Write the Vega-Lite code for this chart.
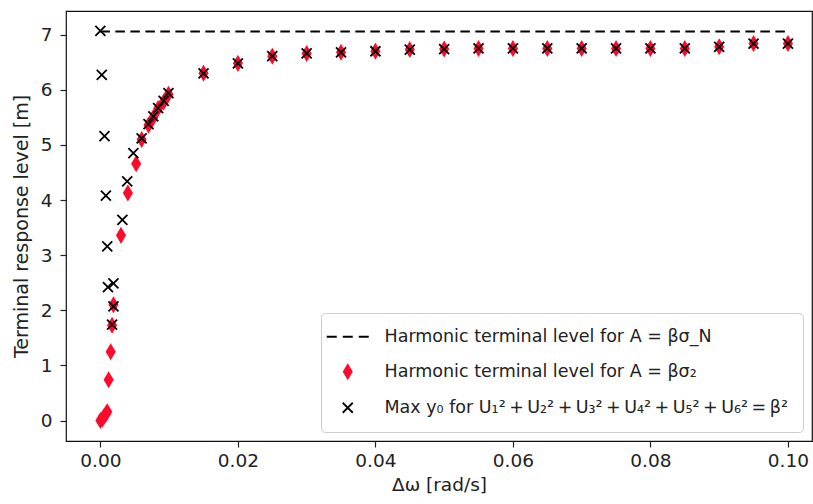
{
  "$schema": "https://vega.github.io/schema/vega-lite/v6.json",
  "width": 746,
  "height": 430,
  "autosize": {"type": "none"},
  "padding": {"left": 66, "top": 11, "right": 1, "bottom": 63},
  "background": "white",
  "config": {
    "font": "DejaVu Sans",
    "view": {"stroke": "#111", "strokeWidth": 1.2},
    "axis": {
      "grid": false,
      "domain": false,
      "tickColor": "#222",
      "tickSize": 6,
      "tickWidth": 1.2,
      "labelFont": "DejaVu Sans",
      "labelFontSize": 18.5,
      "labelColor": "#222",
      "titleFont": "DejaVu Sans",
      "titleFontSize": 18.5,
      "titleFontWeight": "normal",
      "titleColor": "#222"
    },
    "legend": {
      "orient": "bottom-right",
      "offset": 9,
      "padding": 15,
      "rowPadding": 15,
      "fillColor": "rgba(255,255,255,0.85)",
      "strokeColor": "#cccccc",
      "cornerRadius": 4,
      "labelFont": "DejaVu Sans",
      "labelFontSize": 17.5,
      "labelColor": "#222",
      "labelLimit": 600,
      "symbolSize": 100,
      "symbolStrokeWidth": 1.8,
      "symbolOpacity": 1,
      "symbolOffset": 3,
      "labelOffset": 28
    }
  },
  "data": {
    "values": [
      {"series": "N", "x": 0, "y": 7.06},
      {"series": "N", "x": 0.1, "y": 7.06},
      {"series": "S2", "x": 0, "y": 0.0},
      {"series": "S2", "x": 0.0003, "y": 0.03},
      {"series": "S2", "x": 0.0005, "y": 0.07},
      {"series": "S2", "x": 0.0008, "y": 0.12},
      {"series": "S2", "x": 0.001, "y": 0.16},
      {"series": "S2", "x": 0.0012, "y": 0.74},
      {"series": "S2", "x": 0.0015, "y": 1.25},
      {"series": "S2", "x": 0.0017, "y": 1.73},
      {"series": "S2", "x": 0.0019, "y": 2.1},
      {"series": "S2", "x": 0.003, "y": 3.36},
      {"series": "S2", "x": 0.004, "y": 4.13},
      {"series": "S2", "x": 0.0052, "y": 4.66},
      {"series": "S2", "x": 0.006, "y": 5.1},
      {"series": "S2", "x": 0.007, "y": 5.36},
      {"series": "S2", "x": 0.0077, "y": 5.5},
      {"series": "S2", "x": 0.0084, "y": 5.66},
      {"series": "S2", "x": 0.0092, "y": 5.78},
      {"series": "S2", "x": 0.0099, "y": 5.92},
      {"series": "S2", "x": 0.015, "y": 6.3},
      {"series": "S2", "x": 0.02, "y": 6.48},
      {"series": "S2", "x": 0.025, "y": 6.61},
      {"series": "S2", "x": 0.03, "y": 6.66},
      {"series": "S2", "x": 0.035, "y": 6.68},
      {"series": "S2", "x": 0.04, "y": 6.7},
      {"series": "S2", "x": 0.045, "y": 6.73},
      {"series": "S2", "x": 0.05, "y": 6.74},
      {"series": "S2", "x": 0.055, "y": 6.75},
      {"series": "S2", "x": 0.06, "y": 6.75},
      {"series": "S2", "x": 0.065, "y": 6.75},
      {"series": "S2", "x": 0.07, "y": 6.75},
      {"series": "S2", "x": 0.075, "y": 6.75},
      {"series": "S2", "x": 0.08, "y": 6.75},
      {"series": "S2", "x": 0.085, "y": 6.75},
      {"series": "S2", "x": 0.09, "y": 6.78},
      {"series": "S2", "x": 0.095, "y": 6.84},
      {"series": "S2", "x": 0.1, "y": 6.84},
      {"series": "U", "x": 0, "y": 7.07},
      {"series": "U", "x": 0.0002, "y": 6.27},
      {"series": "U", "x": 0.0006, "y": 5.16},
      {"series": "U", "x": 0.0008, "y": 4.08},
      {"series": "U", "x": 0.001, "y": 3.16},
      {"series": "U", "x": 0.0011, "y": 2.42},
      {"series": "U", "x": 0.0017, "y": 1.74},
      {"series": "U", "x": 0.0019, "y": 2.07},
      {"series": "U", "x": 0.0019, "y": 2.49},
      {"series": "U", "x": 0.0032, "y": 3.64},
      {"series": "U", "x": 0.0039, "y": 4.34},
      {"series": "U", "x": 0.0048, "y": 4.85},
      {"series": "U", "x": 0.006, "y": 5.12},
      {"series": "U", "x": 0.007, "y": 5.38},
      {"series": "U", "x": 0.0077, "y": 5.52},
      {"series": "U", "x": 0.0084, "y": 5.67},
      {"series": "U", "x": 0.0092, "y": 5.8},
      {"series": "U", "x": 0.0099, "y": 5.94},
      {"series": "U", "x": 0.015, "y": 6.3},
      {"series": "U", "x": 0.02, "y": 6.48},
      {"series": "U", "x": 0.025, "y": 6.61},
      {"series": "U", "x": 0.03, "y": 6.66},
      {"series": "U", "x": 0.035, "y": 6.68},
      {"series": "U", "x": 0.04, "y": 6.7},
      {"series": "U", "x": 0.045, "y": 6.73},
      {"series": "U", "x": 0.05, "y": 6.74},
      {"series": "U", "x": 0.055, "y": 6.75},
      {"series": "U", "x": 0.06, "y": 6.75},
      {"series": "U", "x": 0.065, "y": 6.75},
      {"series": "U", "x": 0.07, "y": 6.75},
      {"series": "U", "x": 0.075, "y": 6.75},
      {"series": "U", "x": 0.08, "y": 6.75},
      {"series": "U", "x": 0.085, "y": 6.75},
      {"series": "U", "x": 0.09, "y": 6.78},
      {"series": "U", "x": 0.095, "y": 6.84},
      {"series": "U", "x": 0.1, "y": 6.84}
    ]
  },
  "encoding": {
    "x": {
      "field": "x",
      "type": "quantitative",
      "scale": {"domain": [-0.005, 0.1035], "nice": false, "zero": false},
      "axis": {
        "values": [0, 0.02, 0.04, 0.06, 0.08, 0.1],
        "format": ".2f",
        "title": "Δω [rad/s]",
        "labelPadding": 4,
        "titlePadding": 6
      }
    },
    "y": {
      "field": "y",
      "type": "quantitative",
      "scale": {"domain": [-0.37, 7.43], "nice": false, "zero": false},
      "axis": {
        "values": [0, 1, 2, 3, 4, 5, 6, 7],
        "format": "d",
        "title": "Terminal response level [m]",
        "titleFontSize": 19,
        "labelPadding": 8,
        "titlePadding": 9
      }
    }
  },
  "layer": [
    {
      "transform": [{"filter": "datum.series === 'N'"}],
      "mark": {"type": "line", "stroke": "black", "strokeWidth": 2, "strokeDash": [9.5, 5.5]},
      "encoding": {}
    },
    {
      "transform": [{"filter": "datum.series !== 'N'"}],
      "mark": {"type": "point", "filled": true, "opacity": 1, "size": 100, "strokeWidth": 1.8},
      "encoding": {
        "shape": {
          "field": "series",
          "type": "nominal",
          "scale": {
            "domain": ["N", "S2", "U"],
            "range": [
              "M-4.2,0L-2.2,0M-1,0L1,0M2.2,0L4.2,0",
              "M0,-1.35L0.8,0L0,1.35L-0.8,0Z",
              "M-1,-1L1,1M-1,1L1,-1"
            ]
          },
          "legend": {
            "title": null,
            "labelExpr": "datum.value === 'N' ? 'Harmonic terminal level for A = βσ_N' : datum.value === 'S2' ? 'Harmonic terminal level for A = βσ₂' : 'Max y₀ for U₁²\u2009+\u2009U₂²\u2009+\u2009U₃²\u2009+\u2009U₄²\u2009+\u2009U₅²\u2009+\u2009U₆²\u2009=\u2009β²'"
          }
        },
        "fill": {
          "field": "series",
          "type": "nominal",
          "scale": {"domain": ["N", "S2", "U"], "range": ["black", "#ff0a2a", "black"]},
          "legend": {
            "title": null,
            "labelExpr": "datum.value === 'N' ? 'Harmonic terminal level for A = βσ_N' : datum.value === 'S2' ? 'Harmonic terminal level for A = βσ₂' : 'Max y₀ for U₁²\u2009+\u2009U₂²\u2009+\u2009U₃²\u2009+\u2009U₄²\u2009+\u2009U₅²\u2009+\u2009U₆²\u2009=\u2009β²'"
          }
        },
        "stroke": {
          "field": "series",
          "type": "nominal",
          "scale": {"domain": ["N", "S2", "U"], "range": ["black", "#ff0a2a", "black"]},
          "legend": {
            "title": null,
            "labelExpr": "datum.value === 'N' ? 'Harmonic terminal level for A = βσ_N' : datum.value === 'S2' ? 'Harmonic terminal level for A = βσ₂' : 'Max y₀ for U₁²\u2009+\u2009U₂²\u2009+\u2009U₃²\u2009+\u2009U₄²\u2009+\u2009U₅²\u2009+\u2009U₆²\u2009=\u2009β²'"
          }
        }
      }
    }
  ]
}
